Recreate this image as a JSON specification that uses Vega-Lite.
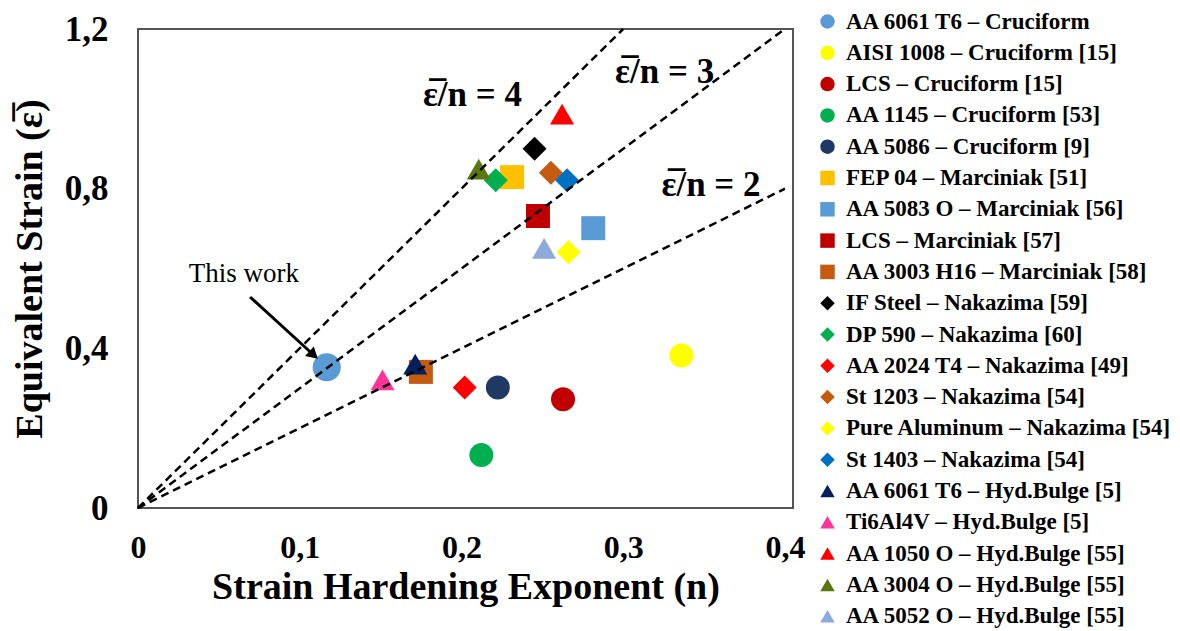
{
  "$schema": "https://vega.github.io/schema/vega-lite/v6.json",
  "width": 655,
  "height": 479,
  "autosize": {"type": "none"},
  "padding": {"left": 138, "top": 29, "right": 387, "bottom": 123},
  "background": "white",
  "datasets": {
    "pts": [
      {"s": "AA 6061 T6 – Cruciform", "n": 0.1167, "e": 0.3525},
      {"s": "AISI 1008 – Cruciform [15]", "n": 0.336, "e": 0.382},
      {"s": "LCS – Cruciform [15]", "n": 0.2628, "e": 0.2725},
      {"s": "AA 1145 – Cruciform [53]", "n": 0.2123, "e": 0.1325},
      {"s": "AA 5086 – Cruciform [9]", "n": 0.2225, "e": 0.302},
      {"s": "FEP 04 – Marciniak [51]", "n": 0.2313, "e": 0.829},
      {"s": "AA 5083 O – Marciniak [56]", "n": 0.2815, "e": 0.701},
      {"s": "LCS – Marciniak [57]", "n": 0.2473, "e": 0.7315},
      {"s": "AA 3003 H16 – Marciniak [58]", "n": 0.1749, "e": 0.341},
      {"s": "IF Steel – Nakazima [59]", "n": 0.2452, "e": 0.9},
      {"s": "DP 590 – Nakazima [60]", "n": 0.2212, "e": 0.821},
      {"s": "AA 2024 T4 – Nakazima [49]", "n": 0.202, "e": 0.302},
      {"s": "St 1203 – Nakazima [54]", "n": 0.2553, "e": 0.84},
      {"s": "Pure Aluminum – Nakazima [54]", "n": 0.2662, "e": 0.641},
      {"s": "St 1403 – Nakazima [54]", "n": 0.2653, "e": 0.821},
      {"s": "AA 6061 T6 – Hyd.Bulge [5]", "n": 0.1714, "e": 0.3607},
      {"s": "Ti6Al4V – Hyd.Bulge [5]", "n": 0.1512, "e": 0.321},
      {"s": "AA 1050 O – Hyd.Bulge [55]", "n": 0.2622, "e": 0.987},
      {"s": "AA 3004 O – Hyd.Bulge [55]", "n": 0.2107, "e": 0.849},
      {"s": "AA 5052 O – Hyd.Bulge [55]", "n": 0.2511, "e": 0.6505}
    ],
    "ratios": [
      {"n": 0, "e": 0, "n2": 0.3, "e2": 1.2},
      {"n": 0, "e": 0, "n2": 0.4, "e2": 1.2},
      {"n": 0, "e": 0, "n2": 0.4, "e2": 0.8}
    ],
    "labels": [
      {"n": 0.2068, "e": 1.007, "t": "ε̅/n = 4"},
      {"n": 0.3256, "e": 1.064, "t": "ε̅/n = 3"},
      {"n": 0.3543, "e": 0.7818, "t": "ε̅/n = 2"}
    ],
    "note": [{"n": 0.0655, "e": 0.5654, "t": "This work"}],
    "arrow": [{"n": 0.0693, "e": 0.5286, "n2": 0.1086, "e2": 0.3833}],
    "head": [{"n": 0.1086, "e": 0.3833}]
  },
  "encoding": {
    "x": {
      "field": "n", "type": "quantitative",
      "scale": {"domain": [0, 0.405], "nice": false, "zero": false},
      "axis": {
        "title": "Strain Hardening Exponent (n)",
        "values": [0, 0.1, 0.2, 0.3, 0.4],
        "labelExpr": "datum.value == 0 ? '0' : replace(format(datum.value, '.1f'), '.', ',')",
        "labelFontSize": 32, "labelPadding": 24, "titlePadding": 5,
        "labelFlush": false, "labelOverlap": false
      }
    },
    "y": {
      "field": "e", "type": "quantitative",
      "scale": {"domain": [0, 1.2], "nice": false, "zero": false},
      "axis": {
        "title": "Equivalent Strain (ε̅)",
        "values": [0, 0.4, 0.8, 1.2],
        "labelExpr": "datum.value == 0 ? '0' : replace(format(datum.value, '.1f'), '.', ',')",
        "labelFontSize": 35, "labelPadding": 30, "titlePadding": 15,
        "labelFlush": false, "labelOverlap": false
      }
    }
  },
  "layer": [
    {
      "data": {"name": "pts"},
      "transform": [{"filter": "datum.s != 'AA 6061 T6 – Cruciform'"}],
      "mark": {"type": "point", "filled": true, "opacity": 1, "size": 576, "strokeWidth": 0},
      "encoding": {
        "color": {
          "field": "s", "type": "nominal", "title": null,
          "scale": {
            "domain": ["AA 6061 T6 – Cruciform", "AISI 1008 – Cruciform [15]", "LCS – Cruciform [15]", "AA 1145 – Cruciform [53]", "AA 5086 – Cruciform [9]", "FEP 04 – Marciniak [51]", "AA 5083 O – Marciniak [56]", "LCS – Marciniak [57]", "AA 3003 H16 – Marciniak [58]", "IF Steel – Nakazima [59]", "DP 590 – Nakazima [60]", "AA 2024 T4 – Nakazima [49]", "St 1203 – Nakazima [54]", "Pure Aluminum – Nakazima [54]", "St 1403 – Nakazima [54]", "AA 6061 T6 – Hyd.Bulge [5]", "Ti6Al4V – Hyd.Bulge [5]", "AA 1050 O – Hyd.Bulge [55]", "AA 3004 O – Hyd.Bulge [55]", "AA 5052 O – Hyd.Bulge [55]"],
            "range": ["#5B9BD5", "#FFFF00", "#C00000", "#00B050", "#203864", "#FFC000", "#5B9BD5", "#C00000", "#C55A11", "#000000", "#00B050", "#FF0000", "#C55A11", "#FFFF00", "#0070C0", "#002060", "#FF3399", "#FF0000", "#5E7611", "#8EA9DB"]
          }
        },
        "shape": {
          "field": "s", "type": "nominal", "title": null,
          "scale": {
            "domain": ["AA 6061 T6 – Cruciform", "AISI 1008 – Cruciform [15]", "LCS – Cruciform [15]", "AA 1145 – Cruciform [53]", "AA 5086 – Cruciform [9]", "FEP 04 – Marciniak [51]", "AA 5083 O – Marciniak [56]", "LCS – Marciniak [57]", "AA 3003 H16 – Marciniak [58]", "IF Steel – Nakazima [59]", "DP 590 – Nakazima [60]", "AA 2024 T4 – Nakazima [49]", "St 1203 – Nakazima [54]", "Pure Aluminum – Nakazima [54]", "St 1403 – Nakazima [54]", "AA 6061 T6 – Hyd.Bulge [5]", "Ti6Al4V – Hyd.Bulge [5]", "AA 1050 O – Hyd.Bulge [55]", "AA 3004 O – Hyd.Bulge [55]", "AA 5052 O – Hyd.Bulge [55]"],
            "range": ["circle", "circle", "circle", "circle", "circle", "square", "square", "square", "square", "diamond", "diamond", "diamond", "diamond", "diamond", "diamond", "triangle-up", "triangle-up", "triangle-up", "triangle-up", "triangle-up"]
          }
        }
      }
    },
    {
      "data": {"name": "pts"},
      "transform": [{"filter": "datum.s == 'AA 6061 T6 – Cruciform'"}],
      "mark": {"type": "point", "filled": true, "opacity": 1, "size": 790, "strokeWidth": 0},
      "encoding": {
        "color": {"field": "s", "type": "nominal", "title": null},
        "shape": {"field": "s", "type": "nominal", "title": null}
      }
    },
    {
      "data": {"name": "ratios"},
      "mark": {"type": "rule", "color": "black", "strokeWidth": 2.5, "strokeDash": [8, 5]},
      "encoding": {
        "x2": {"field": "n2"},
        "y2": {"field": "e2"}
      }
    },
    {
      "data": {"name": "labels"},
      "mark": {"type": "text", "font": "Liberation Serif", "fontWeight": "bold", "fontSize": 35, "color": "black", "align": "center", "baseline": "alphabetic"},
      "encoding": {"text": {"field": "t"}}
    },
    {
      "data": {"name": "note"},
      "mark": {"type": "text", "font": "Liberation Serif", "fontSize": 27, "color": "black", "align": "center", "baseline": "alphabetic"},
      "encoding": {"text": {"field": "t"}}
    },
    {
      "data": {"name": "arrow"},
      "mark": {"type": "rule", "color": "black", "strokeWidth": 3},
      "encoding": {
        "x2": {"field": "n2"},
        "y2": {"field": "e2"}
      }
    },
    {
      "data": {"name": "head"},
      "mark": {"type": "point", "shape": "triangle-up", "filled": true, "color": "black", "opacity": 1, "size": 170, "angle": 132},
      "encoding": {}
    }
  ],
  "config": {
    "view": {"stroke": "#555555", "strokeWidth": 2},
    "axis": {
      "domain": false, "ticks": false, "grid": false,
      "labelFont": "Liberation Serif", "labelFontWeight": "bold", "labelColor": "black",
      "titleFont": "Liberation Serif", "titleFontWeight": "bold", "titleFontSize": 38, "titleColor": "black"
    },
    "legend": {
      "orient": "none", "legendX": 678, "legendY": -19,
      "padding": 0, "rowPadding": 7.3, "labelOffset": 7,
      "symbolSize": 210, "symbolStrokeWidth": 0, "symbolOpacity": 1,
      "labelFont": "Liberation Serif", "labelFontWeight": "bold", "labelFontSize": 23,
      "labelColor": "black", "labelLimit": 500
    }
  }
}
